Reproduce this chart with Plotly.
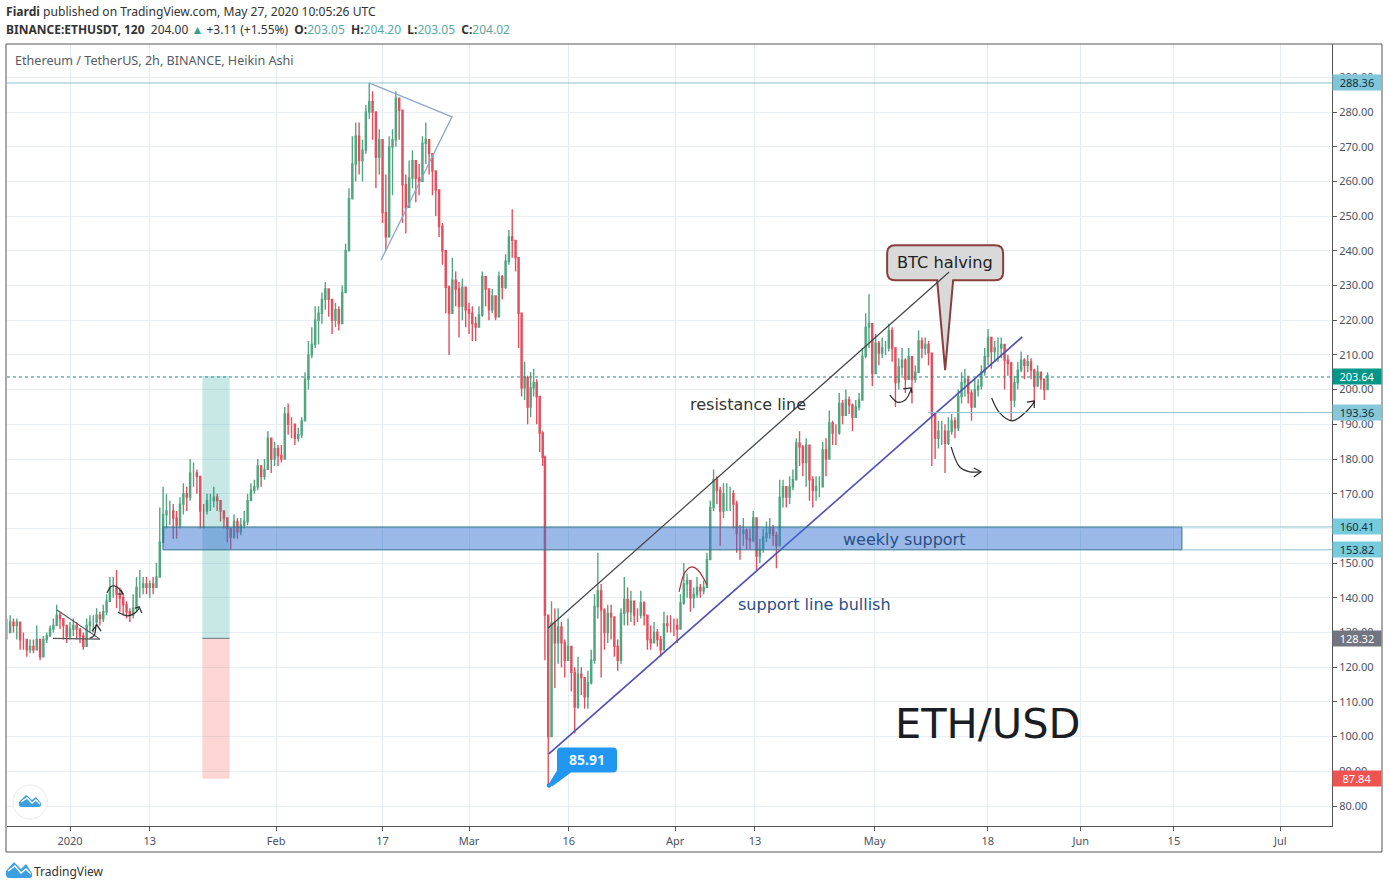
import pandas as pd
import plotly.graph_objects as go

# ---------- price data (half-day Heikin Ashi samples) ----------
dec_jan_close = [130,133,132,133,128,128,125,126,125,128,
                 123,128,129,131,132,135,134,132,129,131,
                 132,131,129,126,132,133,133,135,134,136,
                 139,143,143,141,140,138,136,135,137,143,
                 143,144,143,144,143,146,156]
dec_jan_high = [134,135,134,134,130,130,127,128,128,132,
                126,129,130,132,134,138,136,134,132,133,
                134,133,131,130,134,135,135,137,136,138,
                141,146,146,148,143,141,139,137,141,146,
                148,146,146,145,146,150,166]
dec_jan_low = [128,130,130,128,125,125,123,124,124,125,
               122,124,127,129,130,132,131,128,127,128,
               129,128,127,125,127,130,130,132,132,133,
               135,139,140,137,136,135,134,133,134,136,
               140,141,141,140,141,143,146]

jan_mar_close = [164,165,165,163,161,167,170,169,176,176,
                 175,165,165,168,168,169,168,165,163,160,
                 157.5,162,159,161,162,168,171,172,178,175,
                 177,186,180,183,181,180,193,190,190,186,
                 187,191,203,210,213,220,222,226,229,226,
                 220,223,219,228,240,255,265,273,266,269,
                 280,283,280,267,272,251,244,270,272,284,
                 280.5,259,252.5,261,266,261,260,271,272,268,
                 263,257.5,247,240,229.5,222,231.5,229,224,229.5,
                 223,222,219,218,221.5,232.5,229,223,227,221,
                 232.5,229.5,237,244,243,238,222,200.5,203.5,
                 195,200.5,202,198,187.5,180.5]
jan_mar_high = [172,170,168,167,165,169,173,172,180,179,
                177,175,167,170,170,172,170,168,165,163,
                160,164,163,163,165,170,173,174,180,178,
                180,188,185,185,184,184,195,196,192,190,
                189,192,205,214,218,224,224,228,231,229,
                226,225,224,230,242,258,273,277,277,272,
                282,288.4,286,280,275,262,262,273,275,286,
                284,280,262,266,269,266,265,273,277,272,
                268,262,256,248,240,230,238,234,231,232,
                229,225,224,221,224,234,232,229,229,227,
                234,233,239,246,252,243,231,222,208,
                204,205,206,203,198,188]
jan_mar_low = [156,160,161,157,157,160,164,165,168,172,
               170,160,160,164,165,166,165,162,160,156,
               154,157,157,158,160,161,168,170,171,172,
               174,177,176,178,178,179,180,187,186,184,
               185,186,191,200,209,212,213,219,223,221,
               216,218,217,219,228,240,255,260,262,260,
               268,278,272,258,262,248,240,255,256,270,
               272,248,245,254,258,254,256,262,265,262,
               256,250,244,236,222,210,225,224,215,220,
               218,216,214,214,218,221,224,220,222,220,
               221,226,229,236,238,234,212,198,197,
               190,192,198,190,182,178]

mar_may_close = [135,100,132.7,127,131.6,127,122,126,118.5,108.5,
                 118,117,111.5,115.5,122,137.5,142,136.5,130,135.5,
                 134.5,126,122,135.5,139.5,136,139,135,135,138.5,
                 135,128,127,130,128,125,132.5,132,132,132,
                 131,138.5,144,145,140,141,143,142,143,151,
                 166,174,171,165,170,170,170,167,158.5,158.5,
                 159.5,157,156.5,163,152,154,157.5,158.6,160,158,
                 155,169,172,169,172,174,184.6,183.5,179,184,
                 174,171,172,172,182.6,180,190.4,187.5,187.5,196,
                 192.6,197,195.6,192,195,197,209.6,218,219,204.6,
                 213.4,210.5,212,212,217,212,202,206.5,208.5,203,
                 209.5,203,205,214,212,213,210.5,193,186,188,
                 188,184.5,188,191,189,198,202,203,199,195,
                 200,201,205,209.5,215,211,212,212,213,208.5,
                 207.6,197,202,205.6,208.5,207,208,205.6,201,205,
                 203,200,204.02]
mar_may_high = [181,135,139,137,137,133,128,134,126,120,
                123,120,117,119,125,141,153,144,137,138,
                138,134,128,137,146,143,142,139,137,142,
                139,134,132,133,131,129,136,135,135,134,
                134,141,150,147,145,143,146,144,145,153,
                168,177,175,172,173,173,172,171,168,161,
                163,160,160,165,163,157,160,162,163,161,
                159,174,174,172,175,177,186,188,184,186,
                184,175,175,175,185,186,194,191,190,199,
                197,200,198,196,197,199,212,222,227.5,219,
                216,214,215,214,219,218,212,209,212,209,
                212,209,207,217,215,215,214,209,193,191,
                191,190,192,193,192,200,205,206,204,200,
                203,203,207,212,217.5,215,214,215,215,213,
                210,208,204,208,211,209,210,209,206,207,
                205,203,205]
mar_may_low = [122,85.91,114,114,121,120,117,122,113,101,
               108,112,108,108,115,121,134,117,125,127,
               128,123,119,121,132,132,133,132,133,134,
               132,125,125,127,126,123,125,130,130,129,
               127,131,138,140,136,137,140,140,141,143,
               151,165,167,155,163,165,165,160,153,151,
               155,154,154,156,148,150,153,156,157,155,
               148.5,155,166,166,167,171,174,178,175,172,
               168,166,168,169,172,175,180,184,184,187,
               190,193,193,188,192,194,197,209,212,201,
               205,207,209,210,211,208,195,200,204,199,
               203,196,202,205,209,210,207,178,180,183,
               184,176,184,187,186,188,196,198,196,191,
               195,198,200,204,207,206,208,208,209,200,
               204,191,195,200,205,203,205,203,196,201,
               200,197,200]

seg_starts = ["2019-12-22 12:00", "2020-01-15 00:00", "2020-02-15 12:00", "2020-03-08 00:00", "2020-03-12 10:00"]
seg_ends = ["2020-01-14 12:00", "2020-02-15 00:00", "2020-03-07 12:00", "2020-03-12 02:00", "2020-05-27 00:00"]
seg_counts = [47, 62, 43, 10, 153]

# ---------- axes ----------
x_tick_dates = ["2020-01-01","2020-01-13","2020-02-01","2020-02-17","2020-03-01","2020-03-16",
                "2020-04-01","2020-04-13","2020-05-01","2020-05-18","2020-06-01","2020-06-15","2020-07-01"]
x_tick_text = ["2020","13","Feb","17","Mar","16","Apr","13","May","18","Jun","15","Jul"]
y_ticks = [80,90,100,110,120,130,140,150,160,170,180,190,200,210,220,230,240,250,260,270,280,290]
y_tick_text = ["%.2f" % v for v in y_ticks]

# ---------- drawing tools on the chart: day number since 1 Jan 2020, price ----------
resistance_days, resistance_prices = [71.9, 132.2], [131.3, 233.9]
support_days, support_prices = [72.0, 143.2], [95.0, 215.2]
triangle_days, triangle_prices = [57.44, 44.96, 57.44, 46.77], [278.6, 288.4, 278.6, 237.3]
small_tri_days, small_tri_prices = [-1.95, 4.5, -2.56], [136.5, 128.1, 128.3]
black_curves = [
    ([3.0, 3.6, 3.9], [128.4, 129.0, 132.2], "spline"),
    ([3.3, 4.06, 4.66], [130.4, 132.2, 130.4], "linear"),
    ([5.56, 6.3, 7.07, 7.97], [141.4, 143.4, 143.1, 141.1], "spline"),
    ([7.2, 7.97, 7.67], [141.1, 141.1, 142.3], "linear"),
    ([7.2, 8.7, 9.77, 10.4], [135.9, 134.8, 135.6, 137.0], "spline"),
    ([9.77, 10.4, 10.8], [137.0, 137.4, 135.6], "linear"),
    ([123.3, 124.4, 125.6, 126.5], [198.4, 196.4, 197.0, 200.2], "spline"),
    ([125.3, 126.5, 126.6], [200.2, 200.5, 199.0], "linear"),
    ([132.5, 133.8, 135.3, 136.8], [183.5, 177.7, 176.3, 176.3], "spline"),
    ([135.9, 137.0, 135.9], [177.4, 176.3, 174.8], "linear"),
    ([138.6, 139.8, 141.7, 143.6, 145.0], [197.6, 193.3, 191.0, 193.3, 196.4], "spline"),
    ([143.9, 145.0, 145.0], [196.4, 196.7, 194.7], "linear"),
]
red_curve_days, red_curve_prices = [91.6, 92.5, 93.5, 94.4, 95.8], [141.7, 147.4, 148.9, 148.0, 143.7]

zone_days, zone_prices = [13.98, 167.2], [153.82, 160.41]
position_days = [19.9, 24.0]
position_prices = [87.84, 128.32, 203.9]
level_288, level_193, level_160, level_154, last_price = 288.36, 193.36, 160.41, 153.82, 203.64
level_193_start, level_zone_end = 129.0, 167.2
price_labels = [("288.36", 288.36, "#7fc6d9", "#12303a"), ("203.64", 203.64, "#009688", "#ffffff"),
                ("193.36", 193.36, "#86c7da", "#12303a"), ("160.41", 160.41, "#78cbdc", "#12303a"),
                ("153.82", 153.82, "#78cbdc", "#12303a"), ("128.32", 128.32, "#70757f", "#ffffff"),
                ("87.84", 87.84, "#ef5350", "#ffffff")]
low_day, low_price = 72.03, 85.91
halving_day, halving_price = 131.6, 205.6


def day(d):
    return pd.Timestamp("2020-01-01") + pd.Timedelta(days=d)


def days(ds):
    return [day(d) for d in ds]


# ---------- figure geometry ----------
W, H = 1389, 889
L, R, T, B = 7, 1332, 44, 826
DAY_PX = 6.65
x_range = [day((L - 70) / DAY_PX), day((R - 70) / DAY_PX)]
y_range = [280 - (B - 112) / 3.47, 280 - (T - 112) / 3.47]


def fx(px):
    return (px - L) / (R - L)


def fy(py):
    return (B - py) / (B - T)


GREEN, RED = "#53a582", "#e0515f"
FONT = "Noto Sans"

# ---------- candles ----------
closes = dec_jan_close + jan_mar_close + mar_may_close
highs = dec_jan_high + jan_mar_high + mar_may_high
lows = dec_jan_low + jan_mar_low + mar_may_low
opens = [closes[0]] + closes[:-1]
dates = []
for s, e, n in zip(seg_starts, seg_ends, seg_counts):
    dates += list(pd.date_range(s, e, periods=n))

fig = go.Figure()
fig.add_trace(go.Candlestick(
    x=dates, open=opens, high=highs, low=lows, close=closes,
    increasing=dict(line=dict(color=GREEN, width=1.4), fillcolor=GREEN),
    decreasing=dict(line=dict(color=RED, width=1.4), fillcolor=RED),
    hoverinfo="skip", showlegend=False))


def add_path(ds, ps, color, width=1.2, shape="linear"):
    fig.add_trace(go.Scatter(x=days(ds), y=ps, mode="lines", hoverinfo="skip", showlegend=False,
                             line=dict(color=color, width=width, shape=shape, smoothing=1.0)))


add_path(support_days, support_prices, "#4f50b4", 1.6)
add_path(triangle_days, triangle_prices, "#8ea7cc", 1.3)
add_path(small_tri_days, small_tri_prices, "#555555", 1.1)
for ds, ps, sh in black_curves:
    add_path(ds, ps, "#2a2a2a", 1.2, sh)
add_path(red_curve_days, red_curve_prices, "#a8323f", 1.2, "spline")
fig.add_trace(go.Scatter(x=[day(low_day)], y=[low_price], mode="markers", hoverinfo="skip", showlegend=False,
                         marker=dict(color="#2196f3", size=4, line=dict(color="#2a6fa8", width=0.5))))

# ---------- shapes ----------
shapes = []
# zone and position tool
shapes.append(dict(type="rect", xref="x", yref="y", x0=day(position_days[0]), x1=day(position_days[1]),
                   y0=position_prices[1], y1=position_prices[2], fillcolor="rgba(0,150,136,0.22)", line_width=0))
shapes.append(dict(type="rect", xref="x", yref="y", x0=day(position_days[0]), x1=day(position_days[1]),
                   y0=position_prices[0], y1=position_prices[1], fillcolor="rgba(248,82,70,0.24)", line_width=0))
shapes.append(dict(type="line", xref="x", yref="y", x0=day(position_days[0]), x1=day(position_days[1]),
                   y0=position_prices[1], y1=position_prices[1], line=dict(color="#70757f", width=1)))
shapes.append(dict(type="rect", xref="x", yref="y", x0=day(zone_days[0]), x1=day(zone_days[1]),
                   y0=zone_prices[0], y1=zone_prices[1], fillcolor="rgba(53,113,209,0.5)",
                   line=dict(color="#2f7385", width=1)))
# horizontal levels
shapes.append(dict(type="line", xref="paper", yref="y", x0=0, x1=1, y0=level_288, y1=level_288,
                   line=dict(color="#8cc0cc", width=1)))
shapes.append(dict(type="line", xref="paper", yref="y", x0=0, x1=1, y0=last_price, y1=last_price,
                   line=dict(color="#1f8f82", width=1, dash="dot")))
shapes.append(dict(type="line", xref="x", yref="y", x0=day(level_193_start), x1=x_range[1], y0=level_193, y1=level_193,
                   line=dict(color="#8cc0cc", width=1)))
for lv in (level_160, level_154):
    shapes.append(dict(type="line", xref="x", yref="y", x0=day(level_zone_end), x1=x_range[1], y0=lv, y1=lv,
                       line=dict(color="#8cc0cc", width=1)))
# BTC halving callout, drawn relative to its tip in pixels
shapes.append(dict(type="path", xref="x", yref="y", xsizemode="pixel", ysizemode="pixel",
                   xanchor=day(halving_day), yanchor=halving_price,
                   path="M -8,90 L 0,0 L 8,90 L 50,90 Q 58,90 58,98 L 58,117 Q 58,125 50,125 "
                        "L -50,125 Q -58,125 -58,117 L -58,98 Q -58,90 -50,90 Z",
                   fillcolor="#d9d9d9", line=dict(color="#8a3f3f", width=2)))
# resistance line sits over the callout, as in the source
shapes.append(dict(type="line", xref="x", yref="y", x0=day(resistance_days[0]), x1=day(resistance_days[1]),
                   y0=resistance_prices[0], y1=resistance_prices[1], line=dict(color="#444444", width=1.2)))
# 85.91 flag
shapes.append(dict(type="path", xref="x", yref="y", xsizemode="pixel", ysizemode="pixel",
                   xanchor=day(low_day), yanchor=low_price,
                   path="M 0,2 L 3,-1 L 22,13 L 64,13 Q 68,13 68,17 L 68,34 Q 68,38 64,38 L 12,38 Q 8,38 8,34 "
                        "L 8,15 Z",
                   fillcolor="#2196f3", line_width=0))
# outer frame
shapes.append(dict(type="rect", xref="paper", yref="paper", x0=fx(6), x1=fx(1382), y0=fy(852), y1=fy(44),
                   line=dict(color="#555555", width=1), fillcolor="rgba(0,0,0,0)"))
# logos
CLOUD = "M -11,-1 L -4,6 L 2,1 L 6,4 L 11,-2 Q 12,-6 8,-6 L -8,-6 Q -12,-6 -11,-1 Z"
ZIG = "M -9,-1 L -3,3 L 2,-2 L 6,1 L 10,-3"
CLOUD_BIG = "M -13,-1 L -5,8 L 2,1 L 7,6 L 13,-3 Q 14,-8 10,-8 L -10,-8 Q -14,-8 -13,-1 Z"
ZIG_BIG = "M -11,-1 L -4,4 L 2,-3 L 7,1 L 12,-4"
shapes.append(dict(type="circle", xref="paper", yref="paper", xsizemode="pixel", ysizemode="pixel",
                   xanchor=fx(30), yanchor=fy(802), x0=-17, x1=17, y0=-17, y1=17,
                   fillcolor="#ffffff", line=dict(color="#e8ebf0", width=1)))
for path, cx, cy, fill, col in [(CLOUD, 30, 801, "#3b9fe0", "rgba(0,0,0,0)"), (ZIG, 30, 801, "rgba(0,0,0,0)", "#ffffff"),
                                (CLOUD_BIG, 19, 870, "#3b9fe0", "rgba(0,0,0,0)"), (ZIG_BIG, 19, 870, "rgba(0,0,0,0)", "#ffffff")]:
    shapes.append(dict(type="path", xref="paper", yref="paper", xsizemode="pixel", ysizemode="pixel",
                       xanchor=fx(cx), yanchor=fy(cy), path=path, fillcolor=fill, line=dict(color=col, width=1.5)))

# ---------- annotations ----------
ann = []


def text_px(txt, px, py, size, color, font=FONT, anchor="left"):
    ann.append(dict(text=txt, xref="paper", yref="paper", x=fx(px), y=fy(py), xanchor=anchor, yanchor="middle",
                    showarrow=False, font=dict(size=size, color=color, family=font)))


TEAL = "#5aa9a0"
text_px("<b>Fiardi</b> published on TradingView.com, May 27, 2020 10:05:26 UTC", 4, 12, 12.1, "#333333")
text_px("<b>BINANCE:ETHUSDT, 120</b>  204.00 <span style='color:#3aa08f'>▲</span> +3.11 (+1.55%)  "
        f"<b>O:</b><span style='color:{TEAL}'>203.05</span>  <b>H:</b><span style='color:{TEAL}'>204.20</span>  "
        f"<b>L:</b><span style='color:{TEAL}'>203.05</span>  <b>C:</b><span style='color:{TEAL}'>204.02</span>",
        4, 29, 12, "#333333")
text_px("Ethereum / TetherUS, 2h, BINANCE, Heikin Ashi", 13, 60, 12.6, "#555a63")
text_px("BTC halving", 945, 262, 16.2, "#222222", "DejaVu Sans", "center")
text_px("resistance line", 688, 404, 16, "#333333", "DejaVu Sans")
text_px("support line bullish", 736, 604, 16, "#2a4f84", "DejaVu Sans")
text_px("weekly support", 841, 539, 16, "#2a4f84", "DejaVu Sans")
text_px("ETH/USD", 893, 723, 41.5, "#1a1d24", "DejaVu Sans")
text_px("<b>85.91</b>", 587, 759, 14, "#e8f6ff", FONT, "center")
text_px("TradingView", 32, 871, 12, "#333333")

for label, price, bg, fg in price_labels:
    ann.append(dict(text=label, xref="paper", yref="y", x=fx(R), y=price, xanchor="left", yanchor="middle",
                    showarrow=False, width=46, height=13, bgcolor=bg, align="center", borderpad=1,
                    font=dict(size=11, color=fg, family=FONT)))

fig.update_layout(
    width=W, height=H, margin=dict(l=L, r=W - R, t=T, b=H - B, pad=0, autoexpand=False),
    paper_bgcolor="#ffffff", plot_bgcolor="#ffffff", showlegend=False, dragmode=False,
    shapes=shapes, annotations=ann, font=dict(family=FONT, color="#4c525e", size=11),
    xaxis=dict(type="date", range=x_range, tickmode="array", tickvals=x_tick_dates, ticktext=x_tick_text,
               showgrid=True, gridcolor="#e3edf2", gridwidth=1, zeroline=False, showline=True, linecolor="#555555",
               ticks="outside", ticklen=4, tickcolor="#555555", ticklabelstandoff=1, rangeslider=dict(visible=False),
               tickfont=dict(size=11, color="#4c525e", family=FONT)),
    yaxis=dict(side="right", range=y_range, tickmode="array", tickvals=y_ticks, ticktext=y_tick_text,
               showgrid=True, gridcolor="#e9eef2", gridwidth=1, zeroline=False, showline=True, linecolor="#555555",
               ticks="outside", ticklen=4, tickcolor="#555555", ticklabelstandoff=0,
               tickfont=dict(size=11, color="#4c525e", family=FONT)),
)

fig.write_html("out.html", config={"displayModeBar": False},
               post_script="document.body.style.margin='0';document.documentElement.style.overflow='hidden';")
